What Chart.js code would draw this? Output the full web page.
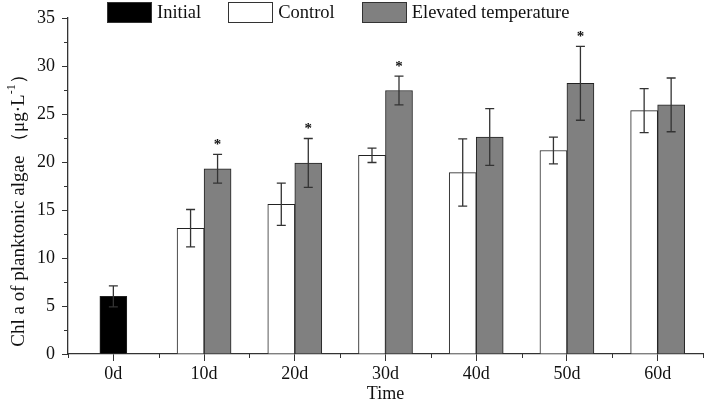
<!DOCTYPE html>
<html>
<head>
<meta charset="utf-8">
<script src="https://cdn.jsdelivr.net/npm/chart.js@4.4.1/dist/chart.umd.min.js"></script>
<style>
  html, body { margin: 0; padding: 0; background: #fff; }
  #wrap { position: relative; width: 706px; height: 399px; }
  #legend { position: absolute; top: 2px; left: 107px; display: flex; align-items: center;
            font-family: 'Liberation Serif', 'Times New Roman', serif; font-size: 18.5px; color: #111; }
  #legend .item { display: flex; align-items: center; margin-right: 27px; }
  #legend .box { width: 43px; height: 19px; border: 1px solid #333; margin-right: 5px; }
</style>
</head>
<body>
<div id="wrap">
  <canvas id="chl" width="706" height="399"></canvas>
  <div id="legend">
    <div class="item"><span class="box" style="background:#000"></span>Initial</div>
    <div class="item"><span class="box" style="background:#fff"></span>Control</div>
    <div class="item"><span class="box" style="background:#808080"></span>Elevated temperature</div>
  </div>
</div>
<script>
// data
const days = ['0d', '10d', '20d', '30d', '40d', '50d', '60d'];
const initialMean = [6.0, null, null, null, null, null, null];
const initialSd   = [1.1, null, null, null, null, null, null];
const controlMean = [null, 13.1, 15.6, 20.7, 18.9, 21.2, 25.35];
const controlSd   = [null, 1.95, 2.2, 0.75, 3.5, 1.4, 2.3];
const elevMean    = [null, 19.3, 19.9, 27.45, 22.6, 28.2, 25.95];
const elevSd      = [null, 1.5, 2.55, 1.5, 2.95, 3.85, 2.8];
const elevStar    = [false, true, true, true, false, true, false];
const yTicks = [0, 5, 10, 15, 20, 25, 30, 35];

const sdByDataset = [initialSd, controlSd, elevSd];
const serif = "'Liberation Serif', 'Times New Roman', serif";
const axisColor = '#333';

// error bars + asterisks
const errorBars = {
    id: 'errorBars',
    afterDatasetsDraw(chart) {
        const ctx = chart.ctx;
        const y = chart.scales.y;
        ctx.save();
        ctx.strokeStyle = '#333';
        ctx.lineWidth = 1.3;
        chart.data.datasets.forEach((ds, di) => {
            const meta = chart.getDatasetMeta(di);
            meta.data.forEach((bar, i) => {
                const m = ds.data[i];
                const sd = sdByDataset[di][i];
                if (m == null || sd == null) return;
                const x = bar.x;
                const top = y.getPixelForValue(m + sd);
                const bot = y.getPixelForValue(m - sd);
                ctx.beginPath();
                ctx.moveTo(x, top); ctx.lineTo(x, bot);
                ctx.moveTo(x - 4.5, top); ctx.lineTo(x + 4.5, top);
                ctx.moveTo(x - 4.5, bot); ctx.lineTo(x + 4.5, bot);
                ctx.stroke();
                if (di === 2 && elevStar[i]) {
                    ctx.fillStyle = '#111';
                    ctx.font = 'bold 15px ' + serif;
                    ctx.textAlign = 'center';
                    ctx.textBaseline = 'middle';
                    ctx.fillText('*', x, top - 9);
                }
            });
        });
        ctx.restore();
    }
};

// minor ticks + y axis title
const axisExtras = {
    id: 'axisExtras',
    afterDraw(chart) {
        const ctx = chart.ctx;
        const x = chart.scales.x, y = chart.scales.y;
        ctx.save();
        ctx.strokeStyle = axisColor;
        ctx.lineWidth = 1;
        ctx.beginPath();
        for (let v = 2.5; v < 35; v += 5) {
            const py = Math.round(y.getPixelForValue(v)) + 0.5;
            ctx.moveTo(x.left - 4, py); ctx.lineTo(x.left, py);
        }
        for (let i = 0; i <= days.length; i++) {
            const px = Math.round(x.getPixelForValue(i - 0.5)) + 0.5;
            ctx.moveTo(px, y.bottom); ctx.lineTo(px, y.bottom + 4);
        }
        ctx.stroke();

        // y title
        ctx.translate(19, 206);
        ctx.rotate(-Math.PI / 2);
        ctx.fillStyle = '#111';
        ctx.textBaseline = 'middle';
        const main = 'Chl a of planktonic algae （μg·L';
        const sup = '-1';
        const end = '）';
        ctx.font = '19px ' + serif;
        const w1 = ctx.measureText(main).width;
        const w3 = ctx.measureText(end).width;
        ctx.font = '12px ' + serif;
        const w2 = ctx.measureText(sup).width;
        let sx = -(w1 + w2 + w3) / 2;
        ctx.font = '19px ' + serif;
        ctx.fillText(main, sx, 0);
        ctx.font = '12px ' + serif;
        ctx.fillText(sup, sx + w1, -7);
        ctx.font = '19px ' + serif;
        ctx.fillText(end, sx + w1 + w2, 0);
        ctx.restore();
    }
};

new Chart(document.getElementById('chl'), {
    type: 'bar',
    data: {
        labels: days,
        datasets: [
            { label: 'Initial', data: initialMean, backgroundColor: '#000', borderColor: '#222', borderWidth: 1 },
            { label: 'Control', data: controlMean, backgroundColor: '#fff', borderColor: '#222', borderWidth: 1 },
            { label: 'Elevated temperature', data: elevMean, backgroundColor: '#808080', borderColor: '#222', borderWidth: 1 }
        ]
    },
    options: {
        responsive: false,
        animation: false,
        skipNull: true,
        barThickness: 27,
        layout: { padding: { top: 18, right: 3, left: 0, bottom: 0 } },
        plugins: { legend: { display: false }, tooltip: { enabled: false } },
        scales: {
            x: {
                offset: true,
                grid: { offset: false, drawOnChartArea: false, tickLength: 7, color: axisColor },
                border: { color: axisColor, width: 1.3 },
                ticks: { color: '#111', font: { family: serif, size: 18 }, padding: 2 },
                title: { display: true, text: 'Time', color: '#111', font: { family: serif, size: 18 }, padding: { top: 4, bottom: -6 } },
                afterFit(s) { s.height = 45; }
            },
            y: {
                min: 0, max: 35,
                afterBuildTicks(s) { s.ticks = yTicks.map(v => ({ value: v })); },
                grid: { drawOnChartArea: false, tickLength: 6, color: axisColor },
                border: { color: axisColor, width: 1.3 },
                ticks: { color: '#111', font: { family: serif, size: 18 }, padding: 7 },
                afterFit(s) { s.width = 68; }
            }
        }
    },
    plugins: [errorBars, axisExtras]
});
</script>
</body>
</html>
